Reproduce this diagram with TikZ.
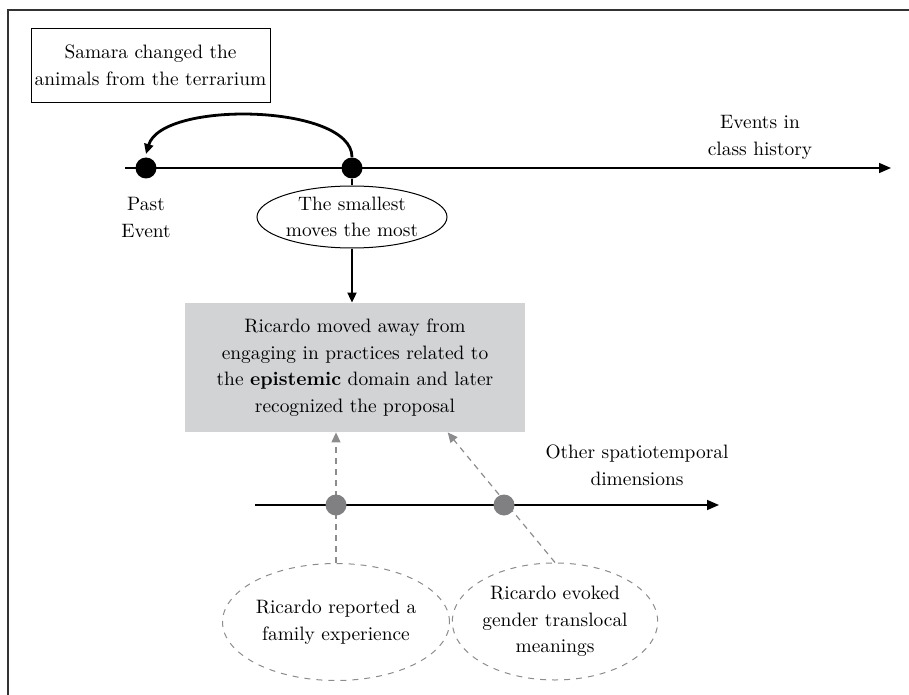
\documentclass[tikz,border=0pt]{standalone}
\usetikzlibrary{arrows.meta,shapes.geometric}

\definecolor{boxgray}{RGB}{210,211,213}
\definecolor{dotgray}{RGB}{128,128,130}
\definecolor{dashgray}{RGB}{140,140,142}

\begin{document}
\begin{tikzpicture}[x=0.5pt,y=-0.5pt,
  txt/.style={font=\fontsize{9.7}{13.3}\selectfont, align=center, inner sep=0pt},
  event/.style={circle, fill=black, inner sep=0pt, minimum size=10.5pt},
  otherevent/.style={circle, fill=dotgray, inner sep=0pt, minimum size=10.5pt},
  timeline/.style={-{Triangle[length=6pt,width=5pt]}, line width=0.8pt},
  memory/.style={ellipse, draw=dashgray, dashed, line width=0.5pt, inner sep=0pt, txt},
  link/.style={-{Triangle[length=5pt,width=4.5pt]}, draw=dashgray, line width=0.6pt, dash pattern=on 3pt off 2.5pt}]

\useasboundingbox (0,0) rectangle (909,695);
\draw[line width=1pt, draw=black!80] (909,10) -- (8,10) -- (8,695);

% upper box and main box
\node[draw, txt, minimum width=119.5pt, minimum height=37pt] (samara) at (150.5,65)
  {Samara changed the\\animals from the terrarium};
\node[fill=boxgray, txt, minimum width=170pt, minimum height=64.5pt] (ricardo) at (355,367.5)
  {Ricardo moved away from\\engaging in practices related to\\the \textbf{epistemic} domain and later\\recognized the proposal};

% lower ellipses and their links
\node[memory, minimum width=102pt, minimum height=58.5pt] (family) at (336,622)
  {Ricardo reported a\\family experience};
\node[memory, minimum width=102.5pt, minimum height=58.5pt] (gender) at (555,621.5)
  {Ricardo evoked\\gender translocal\\meanings};
\draw[link] (family.north) -- (family.north |- ricardo.south);
\draw[link] (gender.north) -- (ricardo.-35);

% class history
\draw[timeline] (125,168) -- (891,168);
\node[event] (pastev) at (146,168) {};
\node[event] (smallev) at (352,168) {};
\node[txt, below=9pt] at (pastev.south) {Past\\Event};
\node[txt] (history) at (760,137.5) {Events in\\class history};
\draw[-{Triangle[length=5pt,width=4.5pt]}, line width=1.4pt] (smallev.north) .. controls (352,104) and (162,100) .. (146,154);

\node[ellipse, draw, txt, line width=0.5pt, minimum width=95pt, minimum height=31pt] (smallest) at (352,217)
  {The smallest\\moves the most};
\draw[line width=0.9pt] (smallev) -- (smallest.north);
\draw[-{Triangle[length=5pt,width=4.5pt]}, line width=0.9pt] (smallest.south) -- (ricardo.north -| smallest.south);

% other spatiotemporal dimensions
\draw[timeline] (255,505) -- (719,505);
\node[otherevent] (famev) at (336,505) {};
\node[otherevent] (gendev) at (504,505) {};
\node[txt] (other) at (637,465) {Other spatiotemporal\\dimensions};
\end{tikzpicture}
\end{document}
